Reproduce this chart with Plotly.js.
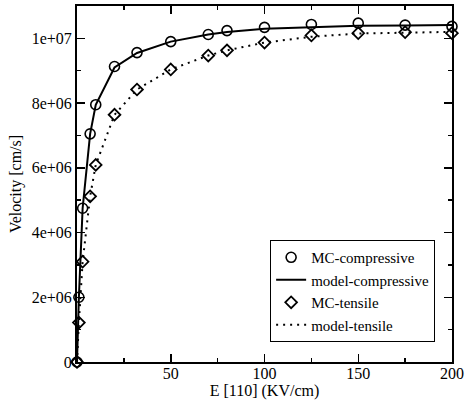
<!DOCTYPE html>
<html>
<head>
<meta charset="utf-8">
<script src="https://cdn.plot.ly/plotly-3.0.1.min.js"></script>
<style>html,body{margin:0;padding:0;background:#fff;}#chart{width:465px;height:400px;}</style>
</head>
<body>
<div id="chart"></div>
<script>
// Field E [110] (KV/cm)
const fieldMC = [0, 1, 3, 7, 10, 20, 32, 50, 70, 80, 100, 125, 150, 175, 200];
// MC-compressive velocity (cm/s)
const velMCcomp = [0, 2.0e6, 4.75e6, 7.05e6, 7.95e6, 9.13e6, 9.56e6, 9.9e6, 10.12e6, 10.24e6, 10.34e6, 10.43e6, 10.47e6, 10.41e6, 10.37e6];
// MC-tensile velocity (cm/s)
const velMCtens = [0, 1.22e6, 3.1e6, 5.12e6, 6.09e6, 7.64e6, 8.42e6, 9.04e6, 9.47e6, 9.63e6, 9.87e6, 10.09e6, 10.16e6, 10.19e6, 10.16e6];
// model curves
const fieldModel = [0, 1, 3, 7, 10, 20, 32, 50, 70, 80, 100, 125, 150, 175, 200];
const velModelComp = [0, 2.0e6, 4.75e6, 7.05e6, 7.95e6, 9.1e6, 9.55e6, 9.9e6, 10.12e6, 10.2e6, 10.3e6, 10.35e6, 10.39e6, 10.4e6, 10.41e6];
const velModelTens = [0, 1.22e6, 3.1e6, 5.12e6, 6.09e6, 7.64e6, 8.42e6, 9.04e6, 9.47e6, 9.63e6, 9.87e6, 10.05e6, 10.15e6, 10.18e6, 10.2e6];

const yTickVals = [0, 2e6, 4e6, 6e6, 8e6, 1e7];
const yTickText = ['0', '2e+06', '4e+06', '6e+06', '8e+06', '1e+07'];
const xTickVals = [50, 100, 150, 200];
const xTickText = ['50', '100', '150', '200'];

const FONT = '"Liberation Serif", serif';

const traces = [
  {x: fieldMC, y: velMCcomp, name: 'MC-compressive', mode: 'markers', type: 'scatter', cliponaxis: false,
   marker: {symbol: 'circle-open', size: 10, color: '#000', line: {width: 1.6, color: '#000'}}},
  {x: fieldModel, y: velModelComp, name: 'model-compressive', mode: 'lines', type: 'scatter', cliponaxis: false,
   line: {color: '#000', width: 2}},
  {x: fieldMC, y: velMCtens, name: 'MC-tensile', mode: 'markers', type: 'scatter', cliponaxis: false,
   marker: {symbol: 'diamond-open', size: 9, color: '#000', line: {width: 1.8, color: '#000'}}},
  {x: fieldModel, y: velModelTens, name: 'model-tensile', mode: 'lines', type: 'scatter', cliponaxis: false,
   line: {color: '#000', width: 2, dash: '2px,5px'}}
];

const layout = {
  width: 465, height: 400,
  margin: {l: 77, r: 13, t: 6, b: 38},
  paper_bgcolor: '#fff', plot_bgcolor: '#fff',
  font: {family: FONT, size: 16, color: '#000'},
  showlegend: true,
  legend: {x: 0.955, y: 0.056, xanchor: 'right', yanchor: 'bottom',
           bgcolor: '#fff', bordercolor: '#000', borderwidth: 1,
           font: {family: FONT, size: 15, color: '#000'},
           tracegroupgap: 0, itemwidth: 30},
  xaxis: {
    range: [0, 200], showgrid: false, zeroline: false, automargin: false,
    showline: true, linecolor: '#000', linewidth: 2, mirror: 'allticks',
    ticks: 'inside', ticklen: 8, tickwidth: 1.5, tickcolor: '#000',
    tickvals: xTickVals, ticktext: xTickText, ticklabelstandoff: -4,
    tickfont: {family: FONT, size: 16, color: '#000'},
    minor: {ticks: 'inside', ticklen: 4, tickwidth: 1.5, tickcolor: '#000', dtick: 25, showgrid: false},
    title: {text: 'E [110] (KV/cm)', font: {family: FONT, size: 16, color: '#000'}, standoff: 0}
  },
  yaxis: {
    range: [0, 1.1e7], showgrid: false, zeroline: false, automargin: false,
    showline: true, linecolor: '#000', linewidth: 2, mirror: 'allticks',
    ticks: 'inside', ticklen: 8, tickwidth: 1.5, tickcolor: '#000',
    tickvals: yTickVals, ticktext: yTickText,
    tickfont: {family: FONT, size: 16, color: '#000'},
    minor: {ticks: 'inside', ticklen: 4, tickwidth: 1.5, tickcolor: '#000', dtick: 1e6, tick0: 0, showgrid: false},
    title: {text: 'Velocity [cm/s]', font: {family: FONT, size: 16, color: '#000'}, standoff: 6}
  }
};

Plotly.newPlot('chart', traces, layout, {displayModeBar: false, staticPlot: true});
</script>
</body>
</html>
